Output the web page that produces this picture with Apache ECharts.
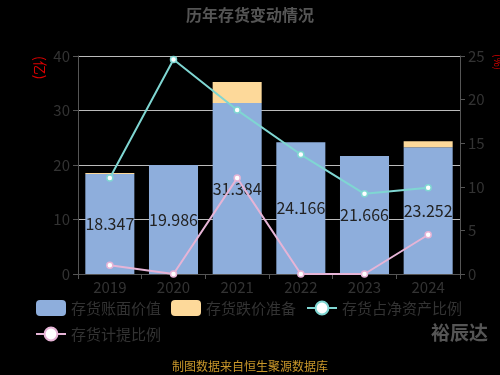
<!DOCTYPE html>
<html><head><meta charset="utf-8">
<script src="https://cdn.jsdelivr.net/npm/echarts@6/dist/echarts.min.js"></script>
<style>html,body{margin:0;padding:0;background:#000;}#c{width:500px;height:375px;}</style>
</head><body><div id="c"></div>
<script>
const years = ['2019','2020','2021','2022','2023','2024'];
const bookValue = [18.347, 19.986, 31.384, 24.166, 21.666, 23.252];
const reserve = [0.19, 0.02, 3.85, 0, 0, 1.09];
const ratioNetAssets = [11.0, 24.6, 18.8, 13.7, 9.2, 9.9];
const provisionRatio = [1.0, 0, 11.0, 0, 0, 4.5];
const leftTicks = [0, 10, 20, 30, 40];
const rightTicks = [0, 5, 10, 15, 20, 25];

const chart = echarts.init(document.getElementById('c'));
const font = 'Noto Sans CJK SC';
chart.setOption({
  backgroundColor: '#000',
  textStyle: {fontFamily: font},
  title: {text: '历年存货变动情况', left: 'center', top: 2,
    textStyle: {color: '#555', fontSize: 16, fontWeight: 'bold', fontFamily: font}},
  grid: {left: 78, right: 40, top: 56, bottom: 101},
  legend: {
    left: 30, top: 295, width: 440, itemWidth: 30, itemHeight: 16, itemGap: 10,
    textStyle: {color: '#333', fontSize: 15, fontFamily: font},
    data: [
      {name: '存货账面价值', icon: 'roundRect'},
      {name: '存货跌价准备', icon: 'roundRect'},
      {name: '存货占净资产比例'},
      {name: '存货计提比例'}
    ]
  },
  graphic: [
    {type: 'text', x: 47, y: 56, rotation: -Math.PI/2, style: {text: '(亿)', fill: '#d00', font: '14px "Noto Sans CJK SC"'}},
    {type: 'text', x: 503, y: 54, rotation: -Math.PI/2, style: {text: '(%)', fill: '#d00', font: '10px "Noto Sans CJK SC"'}},
    {type: 'text', right: 12, top: 323, style: {text: '裕辰达', fill: '#555', font: 'bold 19px "Noto Sans CJK SC"'}},
    {type: 'text', left: 'center', top: 360, style: {text: '制图数据来自恒生聚源数据库', fill: '#c8962a', font: '12px "Noto Sans CJK SC"'}}
  ],
  xAxis: {
    type: 'category', data: years,
    axisLine: {lineStyle: {color: '#555'}},
    axisTick: {show: true, lineStyle: {color: '#555'}},
    axisLabel: {color: '#333', fontSize: 15, margin: 6}
  },
  yAxis: [
    {type: 'value', min: leftTicks[0], max: leftTicks[leftTicks.length-1], interval: 10,
     axisLine: {show: true, lineStyle: {color: '#555'}},
     axisTick: {show: true, lineStyle: {color: '#555'}},
     axisLabel: {color: '#333', fontSize: 15},
     splitLine: {show: true, lineStyle: {color: '#bbb', width: 1}}},
    {type: 'value', min: rightTicks[0], max: rightTicks[rightTicks.length-1], interval: 5,
     axisLine: {show: true, lineStyle: {color: '#555'}},
     axisTick: {show: true, lineStyle: {color: '#555'}},
     axisLabel: {color: '#333', fontSize: 15},
     splitLine: {show: false}}
  ],
  series: [
    {name: '存货账面价值', type: 'bar', stack: 'a', data: bookValue, barWidth: '77%',
     itemStyle: {color: '#8eaedc'},
     label: {show: true, position: 'inside', color: '#222', fontSize: 16, fontFamily: font}},
    {name: '存货跌价准备', type: 'bar', stack: 'a', data: reserve, barWidth: '77%',
     itemStyle: {color: '#fdd99a'}},
    {name: '存货占净资产比例', type: 'line', yAxisIndex: 1, data: ratioNetAssets,
     symbol: 'circle', symbolSize: 6,
     lineStyle: {color: '#7fd6d2', width: 2},
     itemStyle: {color: '#fff', borderColor: '#7fd6d2', borderWidth: 1.5}},
    {name: '存货计提比例', type: 'line', yAxisIndex: 1, data: provisionRatio,
     symbol: 'circle', symbolSize: 6,
     lineStyle: {color: '#e6b4d6', width: 2},
     itemStyle: {color: '#fff', borderColor: '#e6b4d6', borderWidth: 1.5}}
  ]
});
</script></body></html>
